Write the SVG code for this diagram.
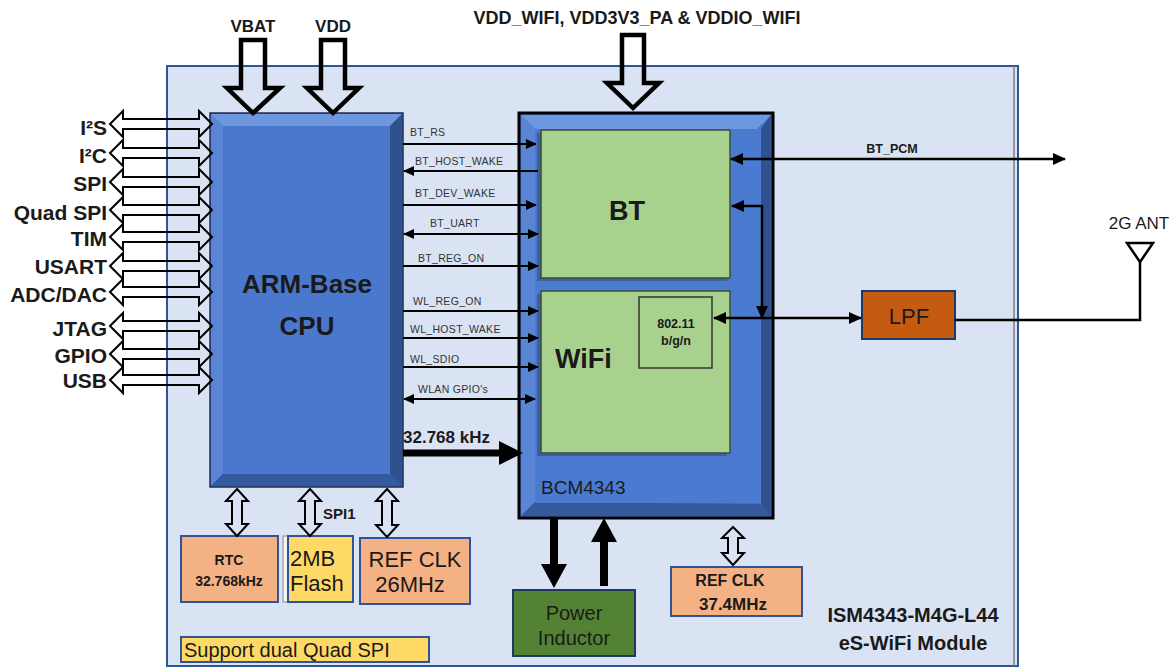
<svg xmlns="http://www.w3.org/2000/svg" width="1175" height="669" viewBox="0 0 1175 669">
<style>
text{font-family:"Liberation Sans",Arial,sans-serif;fill:#1a1a1a}
.b{font-weight:bold}
.sig{font-size:10.5px;fill:#333;letter-spacing:0.3px}
.lab{font-size:21px;font-weight:bold;text-anchor:end}
.hol{fill:none;stroke:#000;stroke-width:2;stroke-linejoin:miter}
.pwr{fill:none;stroke:#000;stroke-width:4.5;stroke-linejoin:miter}
.ln{stroke:#000;stroke-width:1.8;fill:none}
.ln2{stroke:#000;stroke-width:2.5;fill:none}
.orange{fill:#f4b183;stroke:#2f5597;stroke-width:2}
.yel{fill:#ffd966;stroke:#2f5597;stroke-width:2}
.green{fill:#a9d18e;stroke:#3b4f36;stroke-width:1.5}
</style>
<defs>
<marker id="ah" markerUnits="userSpaceOnUse" markerWidth="11" markerHeight="10" refX="10" refY="5" orient="auto-start-reverse">
<path d="M0,0 L11,5 L0,10 Z" fill="#000"/>
</marker>
<marker id="ah2" markerUnits="userSpaceOnUse" markerWidth="13" markerHeight="12" refX="12" refY="6" orient="auto-start-reverse">
<path d="M0,0 L13,6 L0,12 Z" fill="#000"/>
</marker>
</defs>

<g id="module">
<rect x="167" y="66" width="851" height="600" fill="#dae3f3" stroke="#2f5597" stroke-width="2"/>
<line x1="1014" y1="66" x2="1014" y2="666" stroke="#7f7f7f" stroke-width="1.5"/>
<text x="913" y="622" class="b" font-size="20" text-anchor="middle">ISM4343-M4G-L44</text>
<text x="913" y="650" class="b" font-size="20" text-anchor="middle">eS-WiFi Module</text>
</g>

<g id="cpu">
<rect x="210" y="113" width="193" height="374" fill="#4472c4" stroke="#1f2d4d" stroke-width="1.5"/>
<polygon points="211,114 402,114 390,126 223,126" fill="#6f97e0"/>
<polygon points="211,114 223,126 223,474 211,486" fill="#5a84d4"/>
<polygon points="402,114 402,486 390,474 390,126" fill="#2f528f"/>
<polygon points="211,486 223,474 390,474 402,486" fill="#34599c"/>
<rect x="223" y="126" width="167" height="348" fill="#4a78cc"/>
<text x="307" y="293" class="b" font-size="26" text-anchor="middle">ARM-Base</text>
<text x="307" y="335" class="b" font-size="26" text-anchor="middle">CPU</text>
</g>

<g id="bcm4343">
<rect x="519" y="113" width="254" height="405" fill="#4472c4" stroke="#000" stroke-width="3"/>
<polygon points="521,115 771,115 757,129 535,129" fill="#6f97e0"/>
<polygon points="521,115 535,129 535,502 521,516" fill="#5a84d4"/>
<polygon points="771,115 771,516 761,504 761,129" fill="#2f528f"/>
<polygon points="521,516 535,502 761,504 771,516" fill="#34599c"/>
<rect x="535" y="129" width="226" height="374" fill="#4a7bd0"/>
<text x="541" y="494" font-size="19" fill="#1a1a1a">BCM4343</text>
</g>

<g id="bt">
<rect x="537" y="133" width="190" height="148" fill="#3d5f9e"/>
<rect x="541" y="130" width="189" height="148" class="green"/>
<text x="627" y="220" class="b" font-size="27" text-anchor="middle">BT</text>
</g>

<g id="wifi">
<rect x="537" y="294" width="190" height="162" fill="#3d5f9e"/>
<rect x="541" y="291" width="189" height="162" class="green"/>
<text x="555" y="368" class="b" font-size="27">WiFi</text>
</g>

<g id="phy80211">
<rect x="639" y="297" width="73" height="71" fill="#a9d18e" stroke="#333" stroke-width="1.5"/>
<text x="676" y="328" class="b" font-size="12.5" text-anchor="middle">802.11</text>
<text x="676" y="345" class="b" font-size="12.5" text-anchor="middle">b/g/n</text>
</g>

<g id="lpf">
<rect x="862" y="291" width="93" height="48" fill="#c55a11" stroke="#1f3864" stroke-width="2"/>
<text x="909" y="324" font-size="22" text-anchor="middle">LPF</text>
</g>

<g id="antenna">
<text x="1139" y="229" font-size="17" text-anchor="middle">2G ANT</text>
<polygon points="1127,243 1153,243 1140,262" fill="none" stroke="#000" stroke-width="2.5"/>
</g>

<g id="rtc">
<rect x="181" y="536" width="97" height="66" class="orange"/>
<text x="229" y="565" class="b" font-size="14" text-anchor="middle">RTC</text>
<text x="229" y="586" class="b" font-size="14" text-anchor="middle">32.768kHz</text>
</g>

<g id="flash">
<rect x="283" y="536" width="6" height="66" fill="#f2f2f2" stroke="#888" stroke-width="1"/>
<rect x="288" y="536" width="65" height="66" class="yel"/>
<text x="290" y="566" font-size="22">2MB</text>
<text x="290" y="591" font-size="22">Flash</text>
</g>

<g id="refclk26">
<rect x="360" y="538" width="110" height="66" class="orange"/>
<text x="415" y="567" font-size="22" text-anchor="middle">REF CLK</text>
<text x="410" y="592" font-size="22" text-anchor="middle">26MHz</text>
</g>

<g id="quadspi-note">
<rect x="181" y="637" width="248" height="25" class="yel"/>
<text x="184" y="657" font-size="20">Support dual Quad SPI</text>
</g>

<g id="power-inductor">
<rect x="513" y="590" width="122" height="66" fill="#548235" stroke="#1f3864" stroke-width="2"/>
<text x="574" y="620" font-size="20" text-anchor="middle">Power</text>
<text x="574" y="645" font-size="20" text-anchor="middle">Inductor</text>
</g>

<g id="refclk37">
<rect x="671" y="567" width="131" height="49" class="orange"/>
<text x="730" y="586" class="b" font-size="16" text-anchor="middle">REF CLK</text>
<text x="733" y="610" class="b" font-size="17" text-anchor="middle">37.4MHz</text>
</g>

<g id="supply-labels">
<text x="253" y="32" class="b" font-size="17" text-anchor="middle">VBAT</text>
<text x="333" y="32" class="b" font-size="17" text-anchor="middle">VDD</text>
<text x="637" y="24" class="b" font-size="18" text-anchor="middle">VDD_WIFI, VDD3V3_PA  &amp; VDDIO_WIFI</text>
</g>

<g id="io-labels">
<text x="107" y="135" class="lab">I²S</text>
<text x="107" y="163" class="lab">I²C</text>
<text x="107" y="191" class="lab">SPI</text>
<text x="107" y="220" class="lab">Quad SPI</text>
<text x="107" y="246" class="lab">TIM</text>
<text x="107" y="274" class="lab">USART</text>
<text x="107" y="302" class="lab">ADC/DAC</text>
<text x="107" y="336" class="lab">JTAG</text>
<text x="107" y="363" class="lab">GPIO</text>
<text x="107" y="388" class="lab">USB</text>
</g>

<g id="signal-labels">
<text x="410" y="136" class="sig">BT_RS</text>
<text x="415" y="165" class="sig">BT_HOST_WAKE</text>
<text x="415" y="197" class="sig">BT_DEV_WAKE</text>
<text x="430" y="227" class="sig">BT_UART</text>
<text x="418" y="262" class="sig">BT_REG_ON</text>
<text x="413" y="305" class="sig">WL_REG_ON</text>
<text x="410" y="333" class="sig">WL_HOST_WAKE</text>
<text x="410" y="363" class="sig">WL_SDIO</text>
<text x="418" y="393" class="sig">WLAN GPIO's</text>
<text x="403" y="443" class="b" font-size="17">32.768 kHz</text>
<text x="323" y="519" class="b" font-size="15">SPI1</text>
<text x="892" y="153" class="b" font-size="12.5" text-anchor="middle">BT_PCM</text>
</g>

<g id="connectors">
<path class="pwr" d="M241,40 L265,40 L265,88 L280,88 L253,113 L227,88 L241,88 Z"/>
<path class="pwr" d="M321,40 L345,40 L345,88 L359,88 L333,113 L307,88 L321,88 Z"/>
<path class="pwr" d="M622,35 L644,35 L644,83 L659,83 L633,108 L607,83 L622,83 Z"/>
<path class="hol" d="M110,124 L123,111 L123,119 L199,119 L199,111 L212,124 L199,137 L199,129 L123,129 L123,137 Z"/>
<path class="hol" d="M110,153 L123,140 L123,148 L199,148 L199,140 L212,153 L199,166 L199,158 L123,158 L123,166 Z"/>
<path class="hol" d="M110,182 L123,169 L123,177 L199,177 L199,169 L212,182 L199,195 L199,187 L123,187 L123,195 Z"/>
<path class="hol" d="M110,210 L123,197 L123,205 L199,205 L199,197 L212,210 L199,223 L199,215 L123,215 L123,223 Z"/>
<path class="hol" d="M110,237 L123,224 L123,232 L199,232 L199,224 L212,237 L199,250 L199,242 L123,242 L123,250 Z"/>
<path class="hol" d="M110,266 L123,253 L123,261 L199,261 L199,253 L212,266 L199,279 L199,271 L123,271 L123,279 Z"/>
<path class="hol" d="M110,292 L123,279 L123,287 L199,287 L199,279 L212,292 L199,305 L199,297 L123,297 L123,305 Z"/>
<path class="hol" d="M110,326 L123,313 L123,321 L199,321 L199,313 L212,326 L199,339 L199,331 L123,331 L123,339 Z"/>
<path class="hol" d="M110,354 L123,341 L123,349 L199,349 L199,341 L212,354 L199,367 L199,359 L123,359 L123,367 Z"/>
<path class="hol" d="M110,380 L123,367 L123,375 L199,375 L199,367 L212,380 L199,393 L199,385 L123,385 L123,393 Z"/>
<path class="hol" d="M237,489 L248,501 L242,501 L242,524 L248,524 L237,536 L226,524 L232,524 L232,501 L226,501 Z"/>
<path class="hol" d="M310,489 L321,501 L315,501 L315,524 L321,524 L310,536 L299,524 L305,524 L305,501 L299,501 Z"/>
<path class="hol" d="M387,489 L398,501 L392,501 L392,525 L398,525 L387,537 L376,525 L382,525 L382,501 L376,501 Z"/>
<path class="hol" d="M733,527 L744,538 L738,538 L738,553 L744,553 L733,565 L722,553 L728,553 L728,538 L722,538 Z"/>
<line class="ln" x1="403" y1="144" x2="536" y2="144" marker-end="url(#ah)"/>
<line class="ln" x1="538" y1="171" x2="404" y2="171" marker-end="url(#ah)"/>
<line class="ln" x1="403" y1="205" x2="536" y2="205" marker-end="url(#ah)"/>
<line class="ln" x1="404" y1="234" x2="538" y2="234" marker-start="url(#ah)" marker-end="url(#ah)"/>
<line class="ln" x1="403" y1="266" x2="538" y2="266" marker-end="url(#ah)"/>
<line class="ln" x1="403" y1="311" x2="538" y2="311" marker-end="url(#ah)"/>
<line class="ln" x1="403" y1="338" x2="538" y2="338" marker-end="url(#ah)"/>
<line class="ln" x1="403" y1="367" x2="538" y2="367" marker-end="url(#ah)"/>
<line class="ln" x1="404" y1="399" x2="535" y2="399" marker-start="url(#ah)" marker-end="url(#ah)"/>
<line x1="403" y1="453" x2="502" y2="453" stroke="#000" stroke-width="7"/>
<polygon points="499,441 523,453 499,465" fill="#000"/>
<line class="ln2" x1="731" y1="159" x2="1065" y2="159" marker-start="url(#ah2)" marker-end="url(#ah2)"/>
<polyline class="ln2" points="732,206 762,206 762,318" marker-start="url(#ah2)" marker-end="url(#ah2)"/>
<line class="ln2" x1="714" y1="318" x2="861" y2="318" marker-start="url(#ah2)" marker-end="url(#ah2)"/>
<polyline class="ln2" points="955,320 1140,320 1140,262"/>
<line x1="554" y1="518" x2="554" y2="566" stroke="#000" stroke-width="8"/>
<polygon points="541,564 567,564 554,588" fill="#000"/>
<line x1="604" y1="586" x2="604" y2="540" stroke="#000" stroke-width="8"/>
<polygon points="591,542 617,542 604,518" fill="#000"/>
</g>
</svg>
